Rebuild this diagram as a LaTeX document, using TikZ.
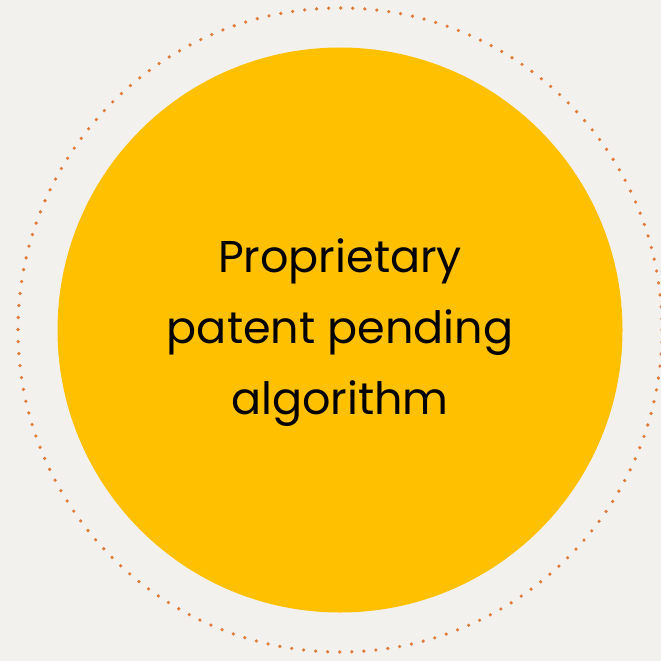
\documentclass[tikz,border=0pt]{standalone}
\usepackage{fontspec}
\setmainfont{Poppins}
\definecolor{bgpaper}{HTML}{F3F1ED}
\definecolor{sunfill}{HTML}{FFC000}
\definecolor{dotorange}{HTML}{E07A38}
\begin{document}
\begin{tikzpicture}[x=1pt,y=-1pt,
  ring/.style={draw=dotorange, line width=3.6pt, line cap=round, dash pattern=on 0pt off 12.05pt},
  core/.style={circle, fill=sunfill, minimum size=565pt, inner sep=0pt},
  caption/.style={align=center, font=\fontsize{44.5}{71}\selectfont, text=black}]
  \fill[bgpaper] (0,0) rectangle (661,661);
  \useasboundingbox (0,0) rectangle (661,661);
  \coordinate (c) at (340,330);
  \draw[ring] (c) circle[radius=322];
  \node[core] (disc) at (c) {};
  \node[caption] (label) at (340,333) {Proprietary\\patent pending\\algorithm};
\end{tikzpicture}
\end{document}
